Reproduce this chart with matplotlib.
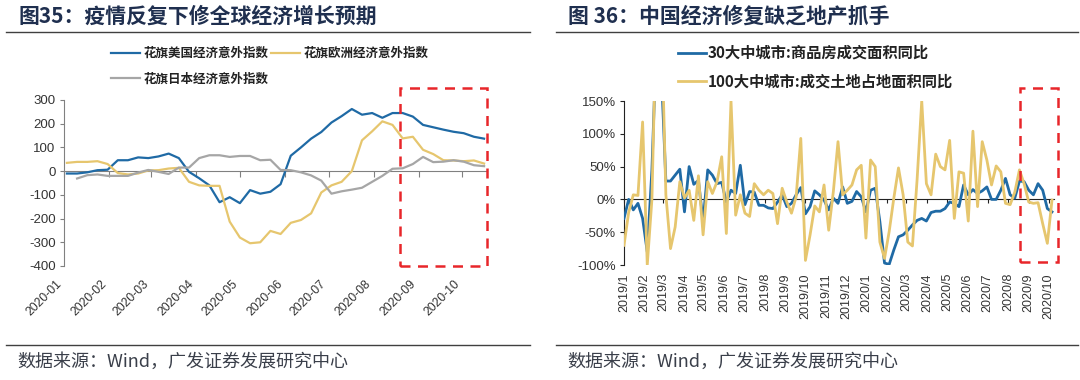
import matplotlib
matplotlib.use('Agg')
import matplotlib.pyplot as plt
import matplotlib.dates as mdates
import numpy as np
import pandas as pd
from matplotlib.lines import Line2D
from matplotlib.patches import Rectangle

plt.rcParams['font.family'] = ['Liberation Sans', 'Noto Sans CJK SC', 'DejaVu Sans']
CJK = ['Noto Sans CJK SC', 'DejaVu Sans']

# ---------------- data: left chart (Citi economic surprise indices, weekly readings) ----------------
left_dates = pd.date_range('2020-01-03', periods=42, freq='7D')
us = [-10, -10, -5, 4, 6, 46, 46, 58, 55, 62,
      74, 55, -3, -30, -60, -131, -110, -135, -80, -95,
      -87, -55, 65, 100, 137, 165, 205, 232, 262, 238,
      245, 225, 245, 245, 230, 195, 185, 175, 166, 160,
      145, 137]
eu = [35, 39, 39, 42, 30, -8, -14, -10, 3, 4,
      11, 14, -45, -60, -62, -62, -213, -280, -304, -300,
      -252, -265, -218, -206, -178, -90, -60, -45, 0, 130,
      168, 210, 195, 138, 145, 90, 72, 46, 45, 42,
      45, 32]
jp = [np.nan, -31, -17, -14, -20, -20, -20, -6, 5, -3,
      -12, 15, 15, 55, 67, 67, 60, 64, 64, 46,
      48, 5, 4, -5, -18, -40, -95, -85, -78, -70,
      -45, -20, 10, 12, 30, 60, 38, 40, 46, 40,
      25, 21]
left_names = ['花旗美国经济意外指数', '花旗欧洲经济意外指数', '花旗日本经济意外指数']
left_months = pd.date_range('2020-01-01', '2020-10-01', freq='MS')
left_month_labels = [d.strftime('%Y-%m') for d in left_months]
left_yticks = [300, 200, 100, 0, -100, -200, -300, -400]

# ---------------- data: right chart (weekly YoY, %) ----------------
right_dates = pd.date_range('2019-01-06', periods=93, freq='7D')
b30 = [-29, 0, -16, -6, -29, -80, 45, 250, 200, 28,
       28, 37, 46, -19, 50, 23, 29, -34, 45, 37,
       24, 26, -4, 14, 9, 52, -8, 12, 11, -9,
       -9, -13, -14, -4, 7, -11, -6, 7, 18, -22,
       -11, 13, 7, -1, -16, 2, -6, 19, -6, -3,
       12, 4, -19, 14, 17, -34, -97, -99, -77, -57,
       -54, -47, -39, -32, -29, -33, -20, -18, -18, -14,
       -4, -6, -11, 22, 7, 15, 9, 13, 19, 0,
       0, 14, 32, 7, 2, 28, 27, 14, 7, 24,
       14, -14, -19]
y100 = [-70, -20, 7, 6, 118, -100, 0, 300, 290, 7,
        -75, -42, 27, 2, 14, -32, 36, -54, 27, 9,
        27, 65, -52, 150, -24, 7, -21, -26, 24, 14,
        7, 14, 9, -37, 17, -4, -21, 4, 93, -93,
        -54, -10, -19, 22, -47, 12, 88, 7, 14, 22,
        45, 52, -59, 60, 50, -65, -90, -49, 2, 48,
        7, -65, -71, 30, 150, 24, 7, 69, 50, 45,
        90, -29, 42, 40, -33, 104, -11, 88, 60, 22,
        51, 42, -6, -8, 11, 45, 24, -4, -6, -5,
        -37, -67, -1]
right_names = ['30大中城市:商品房成交面积同比', '100大中城市:成交土地占地面积同比']
right_ticks = [pd.Timestamp('2019-01-06') + pd.DateOffset(months=k) for k in range(22)]
right_tick_labels = [f'{d.year}/{d.month}' for d in right_ticks]
right_yticks = [150, 100, 50, 0, -50, -100]

# ---------------- styles ----------------
BLUE = '#1F6AA5'
GOLD = '#E6C66E'
GRAY = '#A6A6A6'
RED = '#E8262A'
TITLE_C = '#1F2F4F'
TXT = '#333333'

W, H = 1080, 380
fig = plt.figure(figsize=(W / 100, H / 100), dpi=100)
fig.patch.set_facecolor('white')

def fx(px):
    return px / W

def fy(py):
    return 1 - py / H

# titles, rules, sources
fig.text(fx(18), fy(16), '图35：疫情反复下修全球经济增长预期', fontsize=15, fontweight='bold',
         color=TITLE_C, family=CJK, va='center', ha='left')
fig.text(fx(568), fy(16), '图 36：中国经济修复缺乏地产抓手', fontsize=15, fontweight='bold',
         color=TITLE_C, family=CJK, va='center', ha='left')
for (x0, x1) in [(6, 530), (556, 1078)]:
    fig.add_artist(Line2D([fx(x0), fx(x1)], [fy(32), fy(32)], color='#404040', lw=1.0))
    fig.add_artist(Line2D([fx(x0), fx(x1)], [fy(345), fy(345)], color='#404040', lw=1.0))
fig.text(fx(17), fy(362), '数据来源：Wind，广发证券发展研究中心', fontsize=13, color='#3A3F4A',
         family=CJK, va='center', ha='left')
fig.text(fx(567), fy(362), '数据来源：Wind，广发证券发展研究中心', fontsize=13, color='#3A3F4A',
         family=CJK, va='center', ha='left')

# ---------------- left chart ----------------
ax1 = fig.add_axes([fx(64), fy(266), fx(487 - 64), (266 - 100) / H])
for s in ['top', 'right']:
    ax1.spines[s].set_visible(False)
ax1.spines['bottom'].set_position(('data', 0))
ax1.spines['left'].set_color('#808080')
ax1.spines['bottom'].set_color('#808080')
ax1.spines['bottom'].set_zorder(2)
lx = mdates.date2num(left_dates)
l_us, = ax1.plot(lx, us, color=BLUE, lw=1.6, zorder=3)
l_eu, = ax1.plot(lx, eu, color=GOLD, lw=1.6, zorder=3)
l_jp, = ax1.plot(lx, jp, color=GRAY, lw=1.6, zorder=3)
ax1.set_ylim(-400, 300)
ax1.set_xlim(mdates.date2num(pd.Timestamp('2020-01-01')), mdates.date2num(pd.Timestamp('2020-10-18')))
ax1.set_yticks(left_yticks)
ax1.set_yticklabels([str(v) for v in left_yticks])
ax1.set_xticks(mdates.date2num(left_months))
ax1.set_xticklabels(left_month_labels, rotation=45, ha='right', va='top')
ax1.tick_params(axis='y', direction='out', length=3, color='#808080', labelsize=9.5,
                labelcolor=TXT, pad=3)
ax1.tick_params(axis='x', direction='out', length=4, color='#808080', labelsize=8.8,
                labelcolor=TXT, pad=73)
ax1.set_facecolor('none')
ax1.add_patch(Rectangle((mdates.date2num(pd.Timestamp('2020-08-19')), -400),
                        mdates.date2num(pd.Timestamp('2020-10-18')) - mdates.date2num(pd.Timestamp('2020-08-19')),
                        750, fill=False, edgecolor=RED, lw=1.8, linestyle=(0, (4, 3)),
                        clip_on=False, zorder=5))
leg1 = fig.legend([l_us, l_jp, l_eu], [left_names[0], left_names[2], left_names[1]],
                  loc='upper left', bbox_to_anchor=(fx(111), fy(47)), ncol=2, frameon=False,
                  prop={'family': CJK, 'size': 9, 'weight': 'bold'}, handlelength=2.3,
                  handletextpad=0.3, columnspacing=0.2, labelspacing=1.0,
                  borderpad=0, borderaxespad=0)
for t in leg1.get_texts():
    t.set_color('#222222')

# ---------------- right chart ----------------
ax2 = fig.add_axes([fx(624), fy(265), fx(1054 - 624), (265 - 101) / H])
for s in ['top', 'right']:
    ax2.spines[s].set_visible(False)
ax2.spines['bottom'].set_position(('data', 0))
ax2.spines['left'].set_color('#222222')
ax2.spines['bottom'].set_color('#222222')
ax2.spines['bottom'].set_zorder(2)
rx = mdates.date2num(right_dates)
l_b, = ax2.plot(rx, b30, color=BLUE, lw=2.0, zorder=3)
l_y, = ax2.plot(rx, y100, color=GOLD, lw=2.0, zorder=4)
ax2.set_ylim(-100, 150)
ax2.set_xlim(rx[0], rx[-1] + 3)
ax2.set_yticks(right_yticks)
ax2.set_yticklabels([f'{v}%' for v in right_yticks])
ax2.set_xticks(mdates.date2num(right_ticks))
ax2.set_xticklabels(right_tick_labels, rotation=90, ha='center', va='top')
ax2.tick_params(axis='y', direction='out', length=3, color='#222222', labelsize=9.5,
                labelcolor=TXT, pad=3)
ax2.tick_params(axis='x', direction='out', length=3, color='#222222', labelsize=9,
                labelcolor=TXT, pad=50)
ax2.set_facecolor('none')
bx0 = mdates.date2num(pd.Timestamp('2020-08-24'))
bx1 = mdates.date2num(pd.Timestamp('2020-10-20'))
ax2.add_patch(Rectangle((bx0, -95), bx1 - bx0, 265, fill=False, edgecolor=RED, lw=1.8,
                        linestyle=(0, (4, 3)), clip_on=False, zorder=5))
leg2 = fig.legend([l_b, l_y], right_names, loc='upper left', bbox_to_anchor=(fx(678), fy(45)),
                  ncol=1, frameon=False, prop={'family': CJK, 'size': 11, 'weight': 'bold'},
                  handlelength=1.8, handletextpad=0.15, labelspacing=0.8,
                  borderpad=0, borderaxespad=0)
for t in leg2.get_texts():
    t.set_color('#222222')

fig.savefig('out.png', dpi=100, facecolor='white')
